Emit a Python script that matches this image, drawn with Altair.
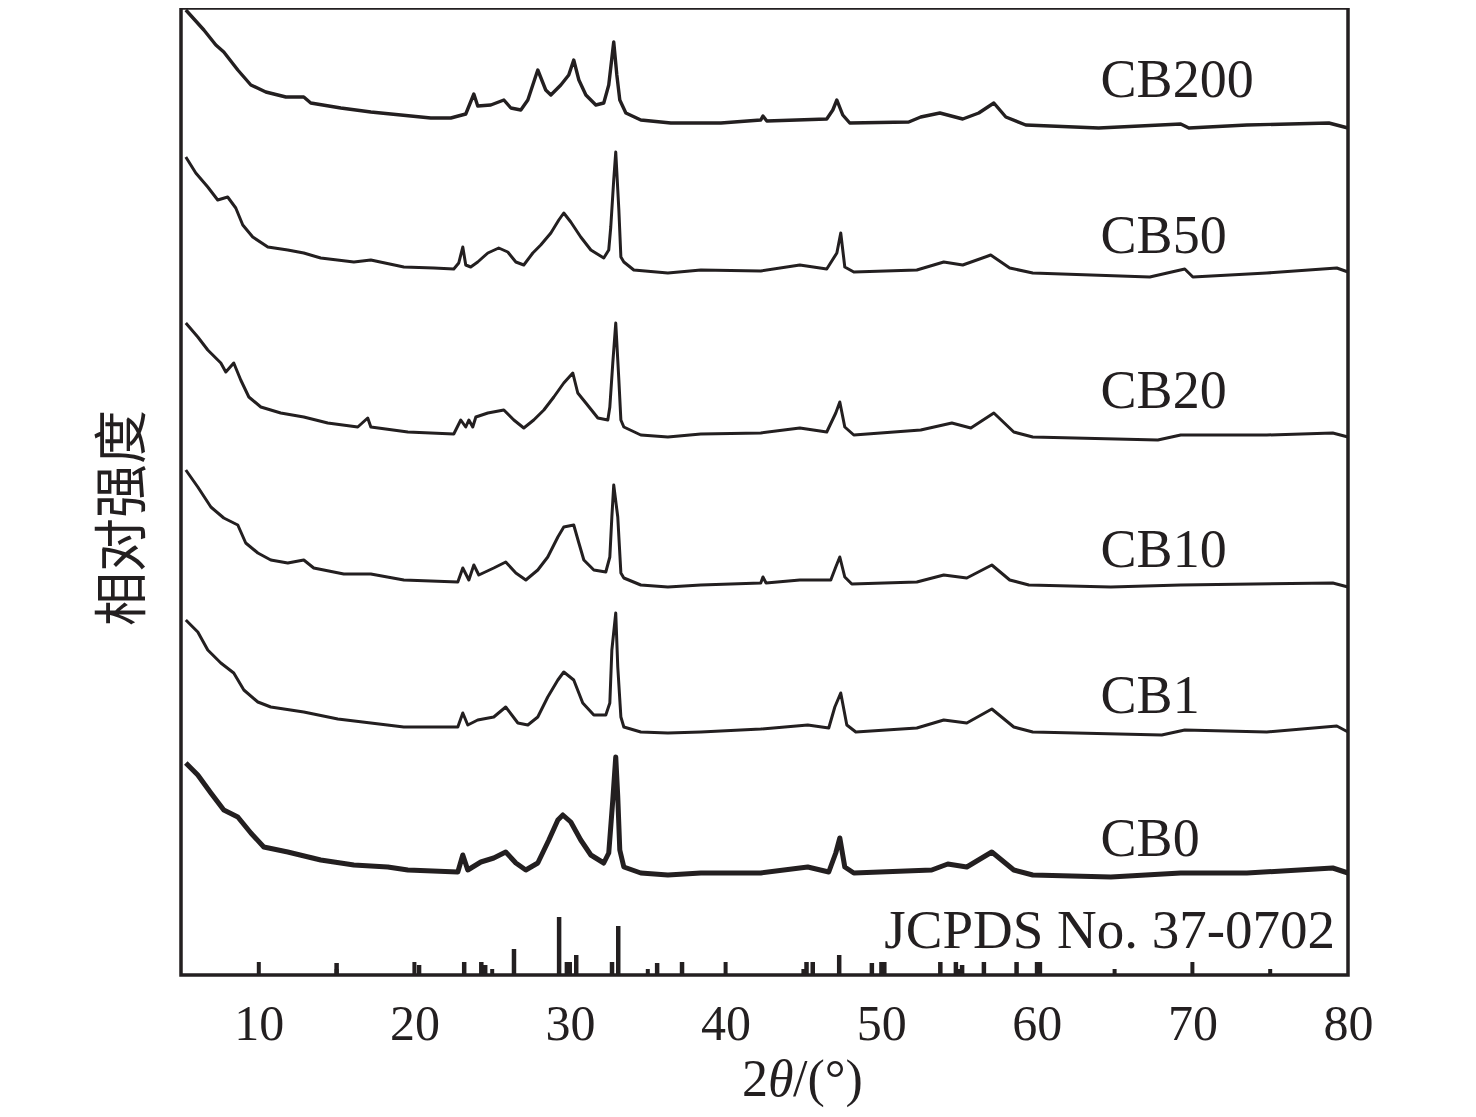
import altair as alt
import pandas as pd

INK = "#231f20"

# ---- XRD curves: 2theta (deg) and relative intensity (plot units, stacked offsets included) ----
CB200_X = [5.31, 6.47, 7.24, 7.75, 8.65, 9.49, 10.45, 11.74, 12.89, 13.34, 15.27, 17.2, 19.13, 21.05, 22.34,
           23.3, 23.82, 24.07, 24.91, 25.75, 26.2, 26.84, 27.29, 27.8, 27.93, 28.44, 28.77, 29.41, 29.92, 30.24,
           30.57, 31.02, 31.66, 32.17, 32.49, 32.75, 32.81, 33.01, 33.2, 33.59, 34.55, 36.48, 39.7, 42.26, 42.4,
           42.65, 46.5, 46.89, 47.15, 47.53, 47.98, 51.77, 52.54, 53.77, 55.24, 56.27, 57.24, 58.01, 59.29, 63.98,
           69.25, 69.77, 73.5, 78.77, 80.0]
CB200_Y = [965, 945, 930, 923, 905, 890, 883, 878, 878, 872, 867, 863, 860, 857, 857,
           861, 881, 869, 870, 875, 867, 865, 875, 899, 905, 885, 880, 890, 900, 915,
           895, 880, 870, 872, 890, 925, 933, 900, 875, 862, 855, 852, 852, 855, 859,
           854, 856, 865, 875, 860, 852, 853, 858, 862, 856, 862, 872, 858, 850, 847,
           851, 847, 850, 852, 847]

CB50_X = [5.31, 5.95, 6.72, 7.36, 8.0, 8.52, 8.97, 9.61, 10.58, 11.86, 12.89, 13.98, 16.11, 17.2, 19.32,
          21.25, 22.53, 22.85, 23.11, 23.3, 23.62, 24.07, 24.72, 25.42, 26.0, 26.52, 27.03, 27.61, 28.12, 28.77,
          29.28, 29.6, 30.05, 30.69, 31.34, 32.17, 32.49, 32.62, 32.81, 32.94, 33.14, 33.27, 33.46, 34.1, 36.29,
          38.41, 42.26, 44.77, 46.5, 47.15, 47.4, 47.66, 48.24, 52.29, 54.02, 55.24, 57.04, 58.26, 59.74, 67.26,
          69.51, 70.03, 74.78, 79.28, 80.0]
CB50_Y = [818, 802, 788, 775, 778, 767, 750, 738, 728, 725, 722, 717, 713, 715, 708,
          707, 706, 712, 728, 710, 708, 713, 722, 727, 723, 713, 710, 722, 730, 742,
          755, 762, 753, 738, 725, 717, 725, 748, 795, 823, 765, 718, 713, 705, 702,
          705, 704, 710, 706, 722, 742, 708, 703, 705, 713, 710, 720, 707, 702, 698,
          706, 698, 702, 707, 703]

CB20_X = [5.31, 6.08, 6.72, 7.56, 7.88, 8.39, 8.84, 9.36, 10.13, 11.41, 12.89, 14.43, 16.36, 17.0, 17.2,
          19.58, 22.53, 22.98, 23.3, 23.5, 23.75, 23.95, 24.72, 25.75, 26.39, 27.03, 27.67, 28.32, 28.96, 29.6,
          30.18, 30.5, 31.02, 31.79, 32.43, 32.56, 32.75, 32.94, 33.14, 33.27, 33.46, 34.55, 36.29, 38.41, 42.26,
          44.77, 46.5, 47.08, 47.34, 47.66, 48.24, 52.54, 54.54, 55.76, 57.24, 58.52, 59.74, 67.78, 69.25, 74.78,
          79.02, 80.0]
CB20_Y = [652, 638, 625, 612, 603, 612, 595, 578, 568, 562, 558, 552, 548, 557, 548,
          543, 541, 555, 548, 555, 548, 558, 562, 565, 555, 547, 555, 565, 578, 592,
          602, 582, 572, 557, 555, 568, 612, 652, 595, 555, 548, 540, 538, 541, 542,
          547, 543, 562, 573, 548, 540, 545, 552, 547, 562, 543, 538, 535, 540, 540,
          542, 538]

CB10_X = [5.31, 6.08, 6.92, 7.75, 8.65, 9.16, 9.94, 10.77, 11.86, 12.89, 13.53, 15.46, 17.2, 19.32, 22.79,
          23.11, 23.5, 23.82, 24.14, 25.1, 25.87, 26.52, 27.16, 27.93, 28.57, 29.22, 29.6, 30.24, 30.57, 30.89,
          31.53, 32.3, 32.56, 32.69, 32.81, 33.07, 33.27, 33.46, 34.55, 36.29, 38.41, 42.26, 42.4, 42.6, 44.77,
          46.76, 47.08, 47.34, 47.66, 48.11, 52.29, 54.02, 55.5, 57.11, 58.26, 59.49, 64.76, 69.25, 79.02, 80.0]
CB10_Y = [505, 488, 468, 457, 450, 432, 422, 415, 412, 415, 407, 401, 401, 395, 393,
          407, 395, 410, 400, 407, 413, 402, 395, 405, 418, 438, 448, 450, 432, 415,
          405, 403, 418, 458, 490, 458, 402, 397, 390, 388, 390, 392, 398, 392, 395,
          395, 408, 418, 398, 391, 393, 400, 397, 410, 395, 390, 388, 390, 392, 388]

CB1_X = [5.31, 6.08, 6.72, 7.56, 8.39, 9.04, 9.94, 10.77, 12.89, 15.08, 17.2, 19.32, 22.79, 23.11, 23.43,
         24.07, 25.1, 25.87, 26.65, 27.29, 27.93, 28.57, 29.22, 29.6, 30.24, 30.82, 31.53, 32.3, 32.56, 32.69,
         32.94, 33.07, 33.27, 33.46, 34.55, 36.29, 38.41, 42.26, 45.28, 46.63, 47.02, 47.4, 47.79, 48.37, 52.29,
         54.02, 55.5, 57.11, 58.52, 59.74, 68.03, 69.51, 74.78, 79.28, 80.0]
CB1_Y = [355, 343, 325, 312, 302, 285, 273, 268, 263, 256, 252, 248, 248, 262, 250,
         255, 258, 268, 252, 250, 258, 278, 295, 303, 295, 272, 260, 260, 272, 325,
         362, 308, 258, 248, 243, 242, 243, 246, 250, 247, 268, 282, 250, 243, 247,
         255, 252, 266, 248, 243, 240, 245, 243, 249, 243]

CB0_X = [5.31, 6.08, 6.92, 7.75, 8.65, 9.49, 10.32, 11.86, 13.98, 16.11, 18.29, 19.58, 22.79, 23.11, 23.43,
         24.27, 25.1, 25.87, 26.52, 27.16, 27.93, 28.64, 29.22, 29.54, 30.05, 30.69, 31.34, 32.17, 32.49, 32.75,
         32.94, 33.07, 33.2, 33.46, 34.55, 36.29, 38.41, 42.26, 45.28, 46.63, 47.08, 47.34, 47.66, 48.24, 53.25,
         54.28, 55.5, 57.11, 58.52, 59.74, 64.76, 69.25, 73.5, 79.02, 80.0]
CB0_Y = [212, 200, 182, 165, 158, 142, 128, 123, 115, 110, 108, 105, 103, 120, 105,
         113, 117, 123, 112, 105, 112, 135, 155, 160, 153, 135, 120, 112, 122, 175,
         218, 178, 125, 108, 102, 100, 102, 102, 108, 103, 122, 137, 108, 102, 105,
         111, 108, 123, 105, 100, 98, 102, 102, 107, 102]

SERIES = ["CB200", "CB50", "CB20", "CB10", "CB1", "CB0"]
SERIES_X = [CB200_X, CB50_X, CB20_X, CB10_X, CB1_X, CB0_X]
SERIES_Y = [CB200_Y, CB50_Y, CB20_Y, CB10_Y, CB1_Y, CB0_Y]
SERIES_W = [3.4, 3.0, 3.0, 3.0, 3.0, 5.0]

# ---- JCPDS No. 37-0702 reference lines (position, stick height in plot units) ----
PDF_X = [15.0, 20.3, 23.2, 24.3, 24.55, 26.4, 29.3, 29.8, 30.4, 32.7, 33.1, 35.6, 37.2,
         45.2, 45.6, 47.3, 49.4, 50.2, 53.8, 54.8, 55.2, 56.6, 58.7, 60.2]
PDF_H = [12, 10, 13, 13, 10, 26, 58, 13, 20, 13, 49, 12, 13,
         13, 13, 20, 12, 13, 13, 13, 10, 13, 13, 13]

# ---- axis ticks (drawn inward) ----
MAJOR_TICKS = [10, 20, 30, 40, 50, 60, 70]
MINOR_TICKS = [15, 25, 35, 45, 55, 65, 75]
TICK_LABELS = [10, 20, 30, 40, 50, 60, 70, 80]

# ---- series labels ----
LABEL_TEXT = ["CB200", "CB50", "CB20", "CB10", "CB1", "CB0"]
LABEL_X = [64.1, 64.1, 64.1, 64.1, 64.1, 64.1]
LABEL_Y = [878, 722, 567, 408, 262, 119]

rows = []
for name, xs_, ys_, w in zip(SERIES, SERIES_X, SERIES_Y, SERIES_W):
    for xv, yv in zip(xs_, ys_):
        rows.append({"series": name, "x": xv, "y": yv, "w": w})
curves = pd.DataFrame(rows)

sticks = pd.DataFrame({"x": PDF_X, "h": PDF_H, "b": [0] * len(PDF_X)})
ticks = pd.DataFrame({
    "x": MAJOR_TICKS + MINOR_TICKS,
    "h": [13] * len(MAJOR_TICKS) + [6] * len(MINOR_TICKS),
    "b": [0] * (len(MAJOR_TICKS) + len(MINOR_TICKS)),
})
labels = pd.DataFrame({"t": LABEL_TEXT, "x": LABEL_X, "y": LABEL_Y})

xs = alt.Scale(domain=[5, 80], nice=False, zero=False)
ys = alt.Scale(domain=[0, 967], nice=False, zero=False)

x_axis = alt.Axis(values=TICK_LABELS, ticks=False, tickSize=0, domain=False, grid=False, title=None,
                  labelFont="Liberation Serif", labelFontSize=50, labelColor=INK,
                  labelBaseline="alphabetic", labelPadding=64, labelFlush=False, labelOverlap=False)

lines = alt.Chart(curves).mark_line(color=INK, strokeJoin="round", strokeCap="butt").encode(
    x=alt.X("x:Q", scale=xs, axis=x_axis),
    y=alt.Y("y:Q", scale=ys, axis=None),
    detail="series:N",
    strokeWidth=alt.StrokeWidth("w:Q", scale=None, legend=None),
)

stick_layer = alt.Chart(sticks).mark_rule(color=INK, strokeWidth=4.5, strokeCap="butt").encode(
    x=alt.X("x:Q", scale=xs),
    y=alt.Y("b:Q", scale=ys),
    y2="h:Q",
)

tick_layer = alt.Chart(ticks).mark_rule(color=INK, strokeWidth=4, strokeCap="butt").encode(
    x=alt.X("x:Q", scale=xs),
    y=alt.Y("b:Q", scale=ys),
    y2="h:Q",
)

label_layer = alt.Chart(labels).mark_text(
    font="Liberation Serif", fontSize=54, color=INK, align="left", baseline="alphabetic"
).encode(
    x=alt.X("x:Q", scale=xs),
    y=alt.Y("y:Q", scale=ys),
    text="t:N",
)

pdf_label = alt.Chart(pd.DataFrame({"t": ["JCPDS No. 37-0702"], "x": [79.17], "y": [27]})).mark_text(
    font="Liberation Serif", fontSize=55, color=INK, align="right", baseline="alphabetic"
).encode(x=alt.X("x:Q", scale=xs), y=alt.Y("y:Q", scale=ys), text="t:N")

# axis titles
t_two = alt.Chart(pd.DataFrame({"t": ["2"]})).mark_text(
    font="Liberation Serif", fontSize=52, color=INK, align="left", baseline="alphabetic"
).encode(x=alt.value(561), y=alt.value(1088), text="t:N")
t_theta = alt.Chart(pd.DataFrame({"t": ["θ"]})).mark_text(
    font="Liberation Serif", fontSize=52, fontStyle="italic", color=INK, align="left", baseline="alphabetic"
).encode(x=alt.value(587), y=alt.value(1088), text="t:N")
t_rest = alt.Chart(pd.DataFrame({"t": ["/(°)"]})).mark_text(
    font="Liberation Serif", fontSize=52, color=INK, align="left", baseline="alphabetic"
).encode(x=alt.value(612), y=alt.value(1088), text="t:N")
y_title = alt.Chart(pd.DataFrame({"t": ["相对强度"]})).mark_text(
    font="Noto Sans CJK SC", fontSize=54, color=INK, align="center", baseline="middle", angle=270
).encode(x=alt.value(-56), y=alt.value(510), text="t:N")

chart = alt.layer(
    lines, stick_layer, tick_layer, label_layer, pdf_label, t_two, t_theta, t_rest, y_title
).properties(
    width=1167, height=967,
    padding={"left": 173, "top": 0, "right": 110, "bottom": 140},
    autosize=alt.AutoSizeParams(type="none"),
    background="white",
).configure_view(stroke=INK, strokeWidth=3.5)

chart.save("out.html", embed_options={"renderer": "svg", "actions": False})
